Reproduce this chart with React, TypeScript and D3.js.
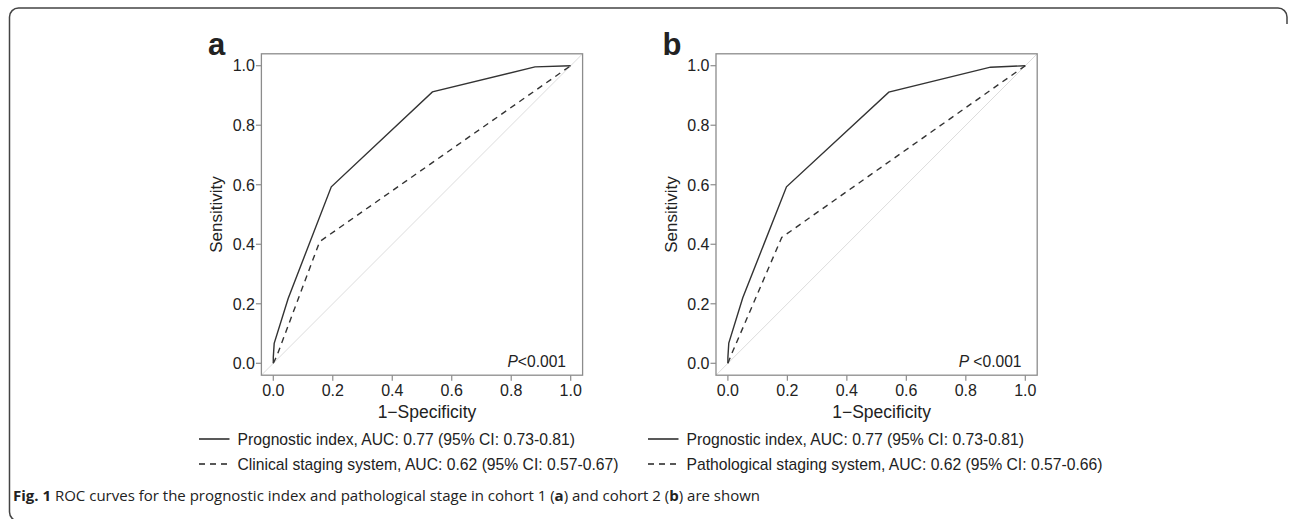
import React from "react";
import * as d3 from "d3";

// ROC points (x = 1 - specificity, y = sensitivity)
const ticks = [0, 0.2, 0.4, 0.6, 0.8, 1.0];

const c1IndexFpr = [0, 0, 0.003, 0.05, 0.195, 0.535, 0.88, 1];
const c1IndexTpr = [0, 0.02, 0.067, 0.218, 0.593, 0.912, 0.996, 1];
const c1StageFpr = [0, 0.012, 0.156, 1];
const c1StageTpr = [0, 0.025, 0.409, 1];

const c2IndexFpr = [0, 0, 0.003, 0.05, 0.197, 0.541, 0.883, 1];
const c2IndexTpr = [0, 0.02, 0.068, 0.22, 0.593, 0.911, 0.995, 1];
const c2StageFpr = [0, 0.012, 0.181, 1];
const c2StageTpr = [0, 0.03, 0.423, 1];

const c1Labels = [
  "Prognostic index, AUC: 0.77 (95% CI: 0.73-0.81)",
  "Clinical staging system, AUC: 0.62 (95% CI: 0.57-0.67)",
];
const c2Labels = [
  "Prognostic index, AUC: 0.77 (95% CI: 0.73-0.81)",
  "Pathological staging system, AUC: 0.62 (95% CI: 0.57-0.66)",
];

const font = "'Liberation Sans', Arial, Helvetica, sans-serif";
const narrow = "'Liberation Sans Narrow', 'Arial Narrow', 'Liberation Sans', sans-serif";
const ink = "#222";
const boxCol = "#8c8c8c";

type PanelProps = {
  letter: string;
  left: number;
  legendX: number;
  idxFpr: number[];
  idxTpr: number[];
  stgFpr: number[];
  stgTpr: number[];
  labels: string[];
  pText: string;
  pRight: number;
};

const Panel = ({ letter, left, legendX, idxFpr, idxTpr, stgFpr, stgTpr, labels, pText, pRight }: PanelProps) => {
  const x = d3.scaleLinear().domain([-0.04, 1.04]).range([left, left + 321.2]);
  const y = d3.scaleLinear().domain([-0.04, 1.04]).range([375.2, 53.8]);
  const line = d3
    .line<[number, number]>()
    .x((d) => x(d[0]))
    .y((d) => y(d[1]));
  const idx = idxFpr.map((v, i) => [v, idxTpr[i]] as [number, number]);
  const stg = stgFpr.map((v, i) => [v, stgTpr[i]] as [number, number]);
  const [x0, x1] = x.range();
  const [y0, y1] = y.range();
  const cx = (x0 + x1) / 2;

  return (
    <g fontFamily={font} fill={ink}>
      <text x={left - 53.5} y={54.5} fontSize={31} fontWeight="bold">
        {letter}
      </text>

      {/* reference diagonal */}
      <line x1={x(-0.04)} y1={y(-0.04)} x2={x(1.04)} y2={y(1.04)} stroke="#dcdcdc" strokeWidth={1} />

      <path d={line(stg) || ""} fill="none" stroke="#333" strokeWidth={1.4} strokeDasharray="6,5" />
      <path d={line(idx) || ""} fill="none" stroke="#333" strokeWidth={1.4} />

      <rect x={x0} y={y1} width={x1 - x0} height={y0 - y1} fill="none" stroke={boxCol} strokeWidth={1.3} />

      {ticks.map((t) => (
        <g key={"x" + t}>
          <line x1={x(t)} x2={x(t)} y1={y0} y2={y0 + 5.5} stroke={boxCol} strokeWidth={1.2} />
          <text x={x(t)} y={395.7} fontSize={16} textAnchor="middle">
            {t.toFixed(1)}
          </text>
        </g>
      ))}
      {ticks.map((t) => (
        <g key={"y" + t}>
          <line x1={x0 - 5.5} x2={x0} y1={y(t)} y2={y(t)} stroke={boxCol} strokeWidth={1.2} />
          <text x={x0 - 6.5} y={y(t)} dy="0.36em" fontSize={16} textAnchor="end">
            {t.toFixed(1)}
          </text>
        </g>
      ))}

      <text x={cx + 5} y={418} fontFamily={narrow} fontSize={17.5} textAnchor="middle">
        1−Specificity
      </text>
      <text
        transform={`translate(${x0 - 39},${(y(0) + y(1)) / 2}) rotate(-90)`}
        fontFamily={narrow}
        fontSize={17}
        textAnchor="middle"
      >
        Sensitivity
      </text>

      <text x={pRight} y={366.7} fontSize={15.6} textAnchor="end">
        <tspan fontStyle="italic">P</tspan>
        {pText}
      </text>

      {labels.map((lab, i) => (
        <g key={lab}>
          <line
            x1={legendX}
            x2={legendX + 30.5}
            y1={439 + i * 25}
            y2={439 + i * 25}
            stroke="#222"
            strokeWidth={1.5}
            strokeDasharray={i === 1 ? "6,5" : undefined}
          />
          <text x={legendX + 38.5} y={439 + i * 25} dy="0.36em" fontSize={15.7}>
            {lab}
          </text>
        </g>
      ))}
    </g>
  );
};

export default function App() {
  return (
    <svg width={1290} height={519} style={{ position: "absolute", left: 0, top: 0, background: "#fff" }}>
      {/* figure frame: left edge, top edge and the top-right corner */}
      <path
        d="M 18.5 521 A 9 9 0 0 1 9.5 512 V 17 A 9 9 0 0 1 18.5 8 H 1278 A 9 9 0 0 1 1287 17 V 24"
        fill="none"
        stroke="#444"
        strokeWidth={1.5}
      />
      <Panel
        letter="a"
        left={261.4}
        legendX={199}
        idxFpr={c1IndexFpr}
        idxTpr={c1IndexTpr}
        stgFpr={c1StageFpr}
        stgTpr={c1StageTpr}
        labels={c1Labels}
        pText="<0.001"
        pRight={566}
      />
      <Panel
        letter="b"
        left={716}
        legendX={648}
        idxFpr={c2IndexFpr}
        idxTpr={c2IndexTpr}
        stgFpr={c2StageFpr}
        stgTpr={c2StageTpr}
        labels={c2Labels}
        pText=" <0.001"
        pRight={1021.5}
      />
      <text x={13} y={501} fontFamily="'Open Sans', 'Noto Sans', sans-serif" fontSize={15} fill="#222">
        <tspan fontWeight="bold">Fig. 1</tspan> ROC curves for the prognostic index and pathological stage in cohort 1 (
        <tspan fontWeight="bold">a</tspan>) and cohort 2 (<tspan fontWeight="bold">b</tspan>) are shown
      </text>
    </svg>
  );
}
